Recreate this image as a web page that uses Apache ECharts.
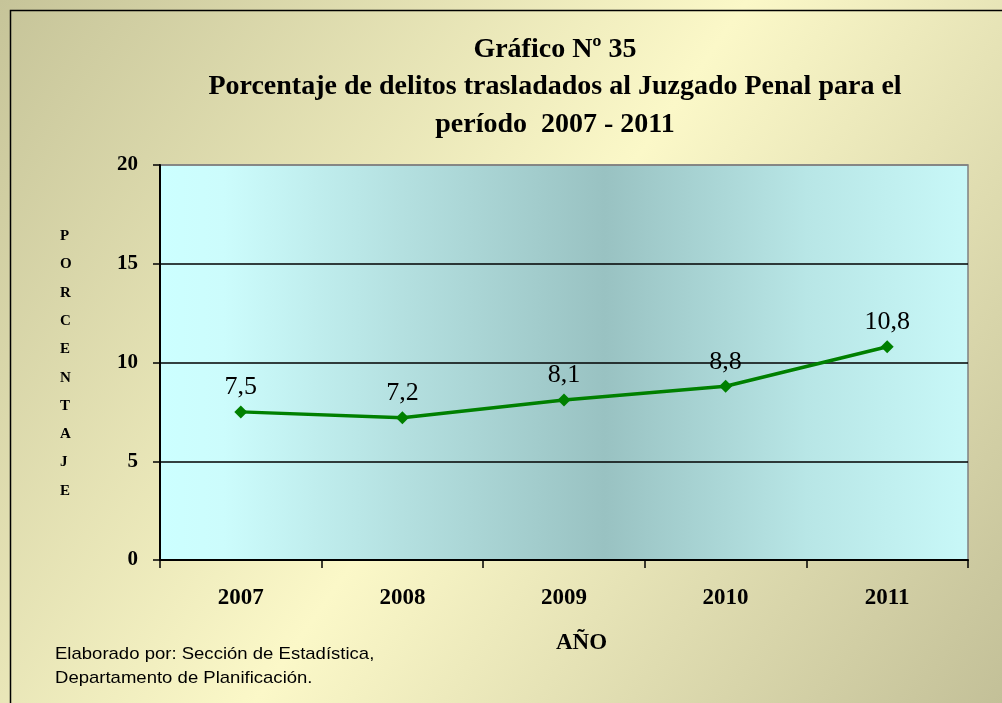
<!DOCTYPE html>
<html>
<head>
<meta charset="utf-8">
<style>
  html, body { margin: 0; padding: 0; background: #ffffff; }
  #chart { width: 1002px; height: 703px; }
</style>
<script src="https://cdn.jsdelivr.net/npm/echarts@6/dist/echarts.min.js"></script>
</head>
<body>
<div id="chart"></div>
<script>
// Percentage of offences referred to the Criminal Court, 2007-2011
const years = ['2007', '2008', '2009', '2010', '2011'];
const percentages = [7.5, 7.2, 8.1, 8.8, 10.8];
const yTicks = [0, 5, 10, 15, 20];
const yAxisLetters = ['P', 'O', 'R', 'C', 'E', 'N', 'T', 'A', 'J', 'E'];

const serif = '"Liberation Serif", "Times New Roman", serif';
const chart = echarts.init(document.getElementById('chart'));

chart.setOption({
  animation: false,
  backgroundColor: {
    type: 'linear', x: 0, y: 0, x2: 1, y2: 1,
    colorStops: [
      { offset: 0, color: '#c6c499' },
      { offset: 0.5, color: '#fbf8c8' },
      { offset: 1, color: '#c3c098' }
    ]
  },
  title: {
    text: 'Gráfico Nº 35\nPorcentaje de delitos trasladados al Juzgado Penal para el\nperíodo  2007 - 2011',
    left: 550, top: 26, textAlign: 'center',
    textStyle: { fontFamily: serif, fontWeight: 'bold', fontSize: 28, lineHeight: 37.5, color: '#000' }
  },
  graphic: [
    {
      type: 'rect', silent: true,
      shape: { x: 10.5, y: 10.5, width: 1010, height: 720 },
      style: { fill: 'none', stroke: '#000', lineWidth: 1.5 }
    },
    {
      type: 'text', left: 60, top: 222,
      style: {
        text: yAxisLetters.join('\n'),
        font: 'bold 15px ' + serif, lineHeight: 28.3, fill: '#000', align: 'center'
      }
    },
    {
      type: 'text', left: 55, top: 642,
      style: {
        text: 'Elaborado por: Sección de Estadística,\nDepartamento de Planificación.',
        font: '17px "Liberation Sans", Arial, sans-serif', lineHeight: 24, fill: '#000'
      },
      scaleX: 1.09
    },
    {
      type: 'text', left: 556, top: 632,
      style: { text: 'AÑO', font: 'bold 23px ' + serif, fill: '#000' }
    }
  ],
  grid: {
    left: 160, top: 165, right: 34, bottom: 143,
    show: true,
    borderColor: '#808080', borderWidth: 1.5,
    backgroundColor: {
      type: 'linear', x: 0, y: 0, x2: 1, y2: 0,
      colorStops: [
        { offset: 0, color: '#ccffff' },
        { offset: 0.08, color: '#ccfcfc' },
        { offset: 0.3, color: '#b4e0e0' },
        { offset: 0.55, color: '#99c2c2' },
        { offset: 0.8, color: '#b8e6e6' },
        { offset: 1, color: '#c8f8f8' }
      ]
    }
  },
  xAxis: {
    type: 'category', data: years, boundaryGap: true,
    axisLine: { lineStyle: { color: '#000', width: 2 } },
    axisTick: { show: true, length: 8, alignWithLabel: false, lineStyle: { color: '#000', width: 1.5 } },
    axisLabel: { margin: 27, fontFamily: serif, fontWeight: 'bold', fontSize: 23, color: '#000' },
    splitLine: { show: false }
  },
  yAxis: {
    type: 'value', min: yTicks[0], max: yTicks[yTicks.length - 1], interval: 5,
    axisLine: { show: true, lineStyle: { color: '#000', width: 2 } },
    axisTick: { show: true, length: 7, lineStyle: { color: '#000', width: 1.5 } },
    axisLabel: { margin: 22, fontFamily: serif, fontWeight: 'bold', fontSize: 21, color: '#000' },
    splitLine: { show: true, lineStyle: { color: ['#000', '#000', '#000', '#000', '#808080'], width: 1.5 } }
  },
  series: [{
    type: 'line',
    data: percentages,
    symbol: 'diamond', symbolSize: 13,
    lineStyle: { color: '#008000', width: 3.5 },
    itemStyle: { color: '#008000' },
    label: {
      show: true, position: 'top', distance: 5,
      fontFamily: serif, fontSize: 26, color: '#000',
      formatter: p => String(p.value).replace('.', ',')
    }
  }]
});
</script>
</body>
</html>
